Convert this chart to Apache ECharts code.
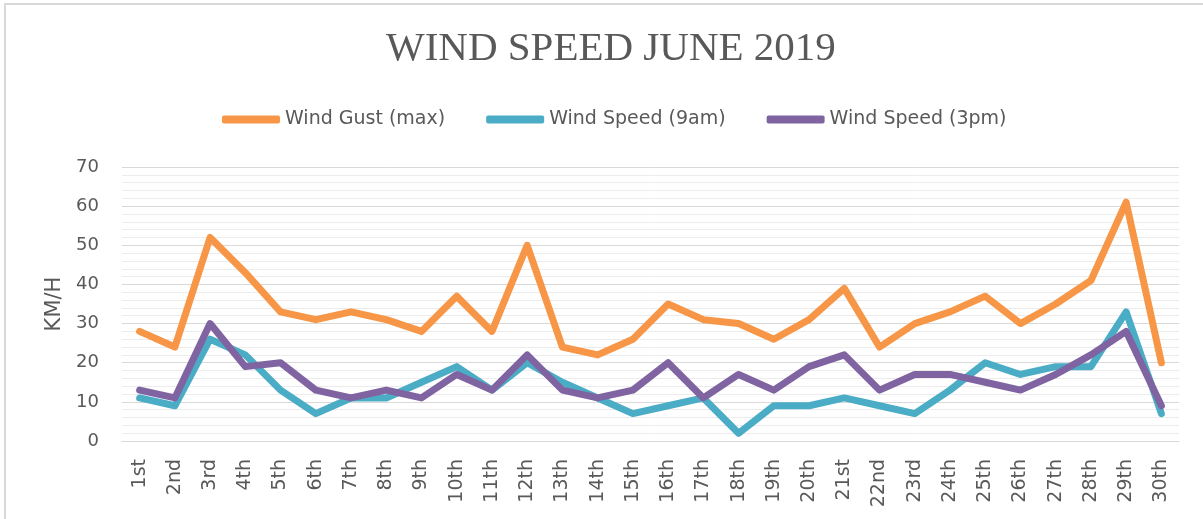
<!DOCTYPE html>
<html>
<head>
<meta charset="utf-8">
<script src="https://cdn.jsdelivr.net/npm/echarts@6/dist/echarts.min.js"></script>
<style>
html,body{margin:0;padding:0;background:#fff;}
#chart{width:1203px;height:519px;}
</style>
</head>
<body>
<div id="chart"></div>
<script>
var titleText = 'WIND SPEED JUNE 2019';
var yAxisName = 'KM/H';
var days = ['1st','2nd','3rd','4th','5th','6th','7th','8th','9th','10th','11th','12th','13th','14th','15th','16th','17th','18th','19th','20th','21st','22nd','23rd','24th','25th','26th','27th','28th','29th','30th'];
var seriesNames = ['Wind Gust (max)','Wind Speed (9am)','Wind Speed (3pm)'];
var windGust = [28,24,52,43,33,31,33,31,28,37,28,50,24,22,26,35,31,30,26,31,39,24,30,33,37,30,35,41,61,20];
var wind9am  = [11,9,26,22,13,7,11,11,15,19,13,20,15,11,7,9,11,2,9,9,11,9,7,13,20,17,19,19,33,7];
var wind3pm  = [13,11,30,19,20,13,11,13,11,17,13,22,13,11,13,20,11,17,13,19,22,13,17,17,15,13,17,22,28,9];
var colors = ['#F79646','#4BACC6','#8064A2'];

var chart = echarts.init(document.getElementById('chart'), null, {renderer:'canvas'});
function mk(name, data, color){
  return {
    name: name, type: 'line', data: data, symbol: 'none', smooth: false,
    lineStyle: {color: color, width: 7, cap: 'round', join: 'round'},
    itemStyle: {color: color},
    animation: false
  };
}
chart.setOption({
  animation: false,
  color: colors,
  graphic: [{
    type: 'rect', shape: {x: 5, y: 4, width: 1400, height: 700},
    style: {fill: 'none', stroke: '#d9d9d9', lineWidth: 2}, silent: true
  }],
  title: {
    text: titleText, left: 381, top: 24,
    textStyle: {fontFamily: 'Liberation Serif', fontSize: 41, fontWeight: 'normal', color: '#595959'}
  },
  legend: {
    left: 217, top: 105, itemWidth: 58, itemHeight: 8, itemGap: 41, icon: 'roundRect',
    textStyle: {fontFamily: 'DejaVu Sans', fontSize: 19, color: '#595959'},
    data: seriesNames
  },
  grid: {left: 122, right: 24, top: 167, bottom: 78, containLabel: false},
  xAxis: {
    type: 'category', data: days, boundaryGap: true,
    axisLine: {lineStyle: {color: '#d9d9d9', width: 1}},
    axisTick: {show: false},
    axisLabel: {rotate: 90, interval: 0, margin: 18, color: '#595959', fontFamily: 'DejaVu Sans', fontSize: 19}
  },
  yAxis: {
    type: 'value', min: 0, max: 70, interval: 10,
    name: yAxisName, nameLocation: 'middle', nameGap: 57, nameRotate: 90,
    nameTextStyle: {fontFamily: 'DejaVu Sans', fontSize: 21, color: '#595959'},
    axisLine: {show: false}, axisTick: {show: false},
    axisLabel: {margin: 23, color: '#595959', fontFamily: 'DejaVu Sans', fontSize: 18},
    splitLine: {lineStyle: {color: '#d9d9d9', width: 1}},
    minorTick: {show: false, splitNumber: 5},
    minorSplitLine: {show: true, lineStyle: {color: '#ececec', width: 1}}
  },
  series: [mk(seriesNames[0], windGust, colors[0]), mk(seriesNames[1], wind9am, colors[1]), mk(seriesNames[2], wind3pm, colors[2])]
});
</script>
</body>
</html>
